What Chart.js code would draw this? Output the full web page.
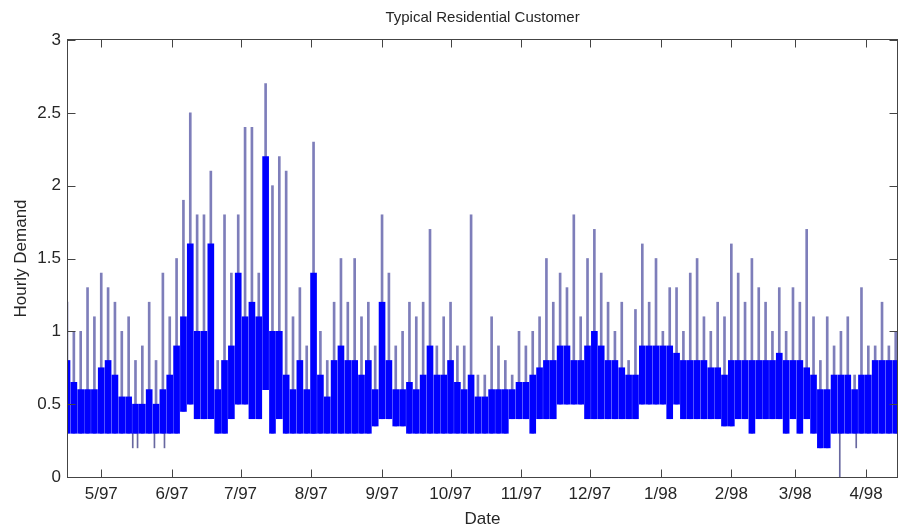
<!DOCTYPE html>
<html>
<head>
<meta charset="utf-8">
<script src="https://cdn.jsdelivr.net/npm/chart.js@4.4.0/dist/chart.umd.min.js"></script>
<style>
  html, body { margin: 0; padding: 0; background: #fff; }
</style>
</head>
<body>
<canvas id="grafico" width="899" height="532"></canvas>
<script>
// dias contados a partir de 1/5/1997 (dia 0), janelas de 3 dias
const dias = [
  -15, -12, -9, -6, -3, 0, 3, 6, 9, 12,
  15, 18, 21, 24, 27, 30, 33, 36, 39, 42,
  45, 48, 51, 54, 57, 60, 63, 66, 69, 72,
  75, 78, 81, 84, 87, 90, 93, 96, 99, 102,
  105, 108, 111, 114, 117, 120, 123, 126, 129, 132,
  135, 138, 141, 144, 147, 150, 153, 156, 159, 162,
  165, 168, 171, 174, 177, 180, 183, 186, 189, 192,
  195, 198, 201, 204, 207, 210, 213, 216, 219, 222,
  225, 228, 231, 234, 237, 240, 243, 246, 249, 252,
  255, 258, 261, 264, 267, 270, 273, 276, 279, 282,
  285, 288, 291, 294, 297, 300, 303, 306, 309, 312,
  315, 318, 321, 324, 327, 330, 333, 336, 339, 342,
  345, 348
];

// pico da demanda horária em cada janela
const pico = [
  1.2, 1.0, 1.0, 1.3, 1.1, 1.4, 1.3, 1.2, 1.0, 1.1,
  0.8, 0.9, 1.2, 0.8, 1.4, 1.1, 1.5, 1.9, 2.5, 1.8,
  1.8, 2.1, 0.8, 1.8, 1.4, 1.8, 2.4, 2.4, 1.4, 2.7,
  2.0, 2.2, 2.1, 1.1, 1.3, 0.9, 2.3, 1.0, 0.8, 1.2,
  1.5, 1.2, 1.5, 1.1, 1.2, 0.9, 1.8, 1.4, 0.9, 1.0,
  1.2, 1.1, 1.2, 1.7, 0.9, 1.1, 1.2, 0.9, 0.9, 1.8,
  0.7, 0.7, 1.1, 0.9, 0.8, 0.7, 1.0, 0.9, 1.0, 1.1,
  1.5, 1.2, 1.4, 1.3, 1.8, 1.1, 1.5, 1.7, 1.4, 1.2,
  1.0, 1.2, 0.8, 1.15, 1.6, 1.2, 1.5, 1.0, 1.3, 1.3,
  1.0, 1.4, 1.5, 1.1, 1.0, 1.2, 1.1, 1.6, 1.4, 1.2,
  1.5, 1.3, 1.2, 1.0, 1.3, 1.0, 1.3, 1.2, 1.7, 1.1,
  0.8, 1.1, 0.9, 1.0, 1.1, 0.7, 1.3, 0.9, 0.9, 1.2,
  0.9, 1.0
];

// topo da faixa densa
const topo = [
  0.8, 0.65, 0.6, 0.6, 0.6, 0.75, 0.8, 0.7, 0.55, 0.55,
  0.5, 0.5, 0.6, 0.5, 0.6, 0.7, 0.9, 1.1, 1.6, 1.0,
  1.0, 1.6, 0.6, 0.8, 0.9, 1.4, 1.1, 1.2, 1.1, 2.2,
  1.0, 1.0, 0.7, 0.6, 0.8, 0.6, 1.4, 0.7, 0.55, 0.8,
  0.9, 0.8, 0.8, 0.7, 0.8, 0.6, 1.2, 0.8, 0.6, 0.6,
  0.65, 0.6, 0.7, 0.9, 0.7, 0.7, 0.8, 0.65, 0.6, 0.7,
  0.55, 0.55, 0.6, 0.6, 0.6, 0.6, 0.65, 0.65, 0.7, 0.75,
  0.8, 0.8, 0.9, 0.9, 0.8, 0.8, 0.9, 1.0, 0.9, 0.8,
  0.8, 0.75, 0.7, 0.7, 0.9, 0.9, 0.9, 0.9, 0.9, 0.85,
  0.8, 0.8, 0.8, 0.8, 0.75, 0.75, 0.7, 0.8, 0.8, 0.8,
  0.8, 0.8, 0.8, 0.8, 0.85, 0.8, 0.8, 0.8, 0.75, 0.7,
  0.6, 0.6, 0.7, 0.7, 0.7, 0.6, 0.7, 0.7, 0.8, 0.8,
  0.8, 0.8
];

// base da faixa densa
const base = [
  0.3, 0.3, 0.3, 0.3, 0.3, 0.3, 0.3, 0.3, 0.3, 0.3,
  0.3, 0.3, 0.3, 0.3, 0.3, 0.3, 0.3, 0.45, 0.5, 0.4,
  0.4, 0.4, 0.3, 0.3, 0.4, 0.5, 0.5, 0.4, 0.4, 0.6,
  0.3, 0.4, 0.3, 0.3, 0.3, 0.3, 0.3, 0.3, 0.3, 0.3,
  0.3, 0.3, 0.3, 0.3, 0.3, 0.35, 0.4, 0.4, 0.35, 0.35,
  0.3, 0.3, 0.3, 0.3, 0.3, 0.3, 0.3, 0.3, 0.3, 0.3,
  0.3, 0.3, 0.3, 0.3, 0.3, 0.4, 0.4, 0.4, 0.3, 0.4,
  0.4, 0.4, 0.5, 0.5, 0.5, 0.5, 0.4, 0.4, 0.4, 0.4,
  0.4, 0.4, 0.4, 0.4, 0.5, 0.5, 0.5, 0.5, 0.4, 0.5,
  0.4, 0.4, 0.4, 0.4, 0.4, 0.4, 0.35, 0.35, 0.4, 0.4,
  0.3, 0.4, 0.4, 0.4, 0.4, 0.3, 0.4, 0.3, 0.4, 0.3,
  0.2, 0.2, 0.3, 0.3, 0.3, 0.3, 0.3, 0.3, 0.3, 0.3,
  0.3, 0.3
];

// quedas isoladas abaixo da faixa
const quedaDias = [13.8, 15.9, 23.3, 27.7, 323.5, 330.7];
const quedaDe = [0.3, 0.3, 0.3, 0.3, 0.3, 0.3];
const quedaAte = [0.2, 0.2, 0.2, 0.2, 0, 0.2];

// inicio de cada mes
const mesDias = [0, 31, 61, 92, 123, 153, 184, 214, 245, 276, 304, 335];
const mesRotulos = ["5/97", "6/97", "7/97", "8/97", "9/97", "10/97", "11/97", "12/97", "1/98", "2/98", "3/98", "4/98"];

const fonte = "'Liberation Sans', Arial, sans-serif";
Chart.defaults.font.family = fonte;
Chart.defaults.color = "#262626";

// moldura, marcas para dentro e textos no estilo matlab
const moldura = {
  id: "moldura",
  afterDatasetsDraw(chart) {
    const { ctx, chartArea: a, scales: { x, y } } = chart;
    const l = Math.round(a.left) + 0.5, r = Math.round(a.right) - 0.5;
    const t = Math.round(a.top) - 0.5, b = Math.round(a.bottom) + 0.5;
    ctx.save();
    ctx.strokeStyle = "#444";
    ctx.lineWidth = 1;
    ctx.strokeRect(l, t, r - l, b - t);
    ctx.beginPath();
    x.ticks.forEach((tk) => {
      const px = Math.round(x.getPixelForValue(tk.value)) + 0.5;
      ctx.moveTo(px, b); ctx.lineTo(px, b - 8);
      ctx.moveTo(px, t); ctx.lineTo(px, t + 8);
    });
    y.ticks.forEach((tk) => {
      const py = Math.round(y.getPixelForValue(tk.value)) + 0.5;
      ctx.moveTo(l, py); ctx.lineTo(l + 8, py);
      ctx.moveTo(r, py); ctx.lineTo(r - 8, py);
    });
    ctx.stroke();

    const meio = (a.left + a.right) / 2;
    ctx.fillStyle = "#262626";
    ctx.textAlign = "center";
    ctx.textBaseline = "middle";
    ctx.font = "15px " + fonte;
    ctx.fillText("Typical Residential Customer", meio, 18);
    ctx.font = "17px " + fonte;
    ctx.fillText("Date", meio, 519);
    ctx.translate(21, (a.top + a.bottom) / 2);
    ctx.rotate(-Math.PI / 2);
    ctx.fillText("Hourly Demand", 0, 0);
    ctx.restore();
  }
};

const ctx = document.getElementById("grafico");

const chart = new Chart(ctx, {
  type: "bar",
  data: {
    datasets: [
      {
        label: "faixa",
        data: dias.map((d, i) => ({ x: d, y: [base[i], topo[i]] })),
        backgroundColor: "#0000ff",
        barThickness: 6,
        grouped: false,
        order: 0,
        clip: 0
      },
      {
        label: "picos",
        data: dias.map((d, i) => ({ x: d, y: [base[i], pico[i]] })),
        backgroundColor: "rgba(40, 40, 140, 0.6)",
        barThickness: 2,
        grouped: false,
        order: 1,
        clip: 0
      },
      {
        label: "quedas",
        data: quedaDias.map((d, i) => ({ x: d, y: [quedaAte[i], quedaDe[i]] })),
        backgroundColor: "rgba(40, 40, 120, 0.7)",
        barThickness: 1,
        grouped: false,
        order: 2,
        clip: 0
      }
    ]
  },
  options: {
    responsive: false,
    animation: false,
    layout: { padding: { top: 40, right: 1, left: 0, bottom: 0 } },
    plugins: { legend: { display: false }, tooltip: { enabled: false } },
    scales: {
      x: {
        type: "linear",
        min: -15,
        max: 349,
        offset: false,
        grid: { display: false, drawTicks: false },
        border: { display: false },
        afterBuildTicks: (s) => { s.ticks = mesDias.map((v) => ({ value: v })); },
        ticks: {
          autoSkip: false,
          maxRotation: 0,
          padding: 7,
          font: { size: 17 },
          callback: (v, i) => mesRotulos[i]
        },
        afterFit: (s) => { s.height = 55; }
      },
      y: {
        min: 0,
        max: 3,
        grid: { display: false, drawTicks: false },
        border: { display: false },
        ticks: { stepSize: 0.5, padding: 6, font: { size: 17 }, callback: (v) => String(v) },
        afterFit: (s) => { s.width = 67; }
      }
    }
  },
  plugins: [moldura]
});
</script>
</body>
</html>
